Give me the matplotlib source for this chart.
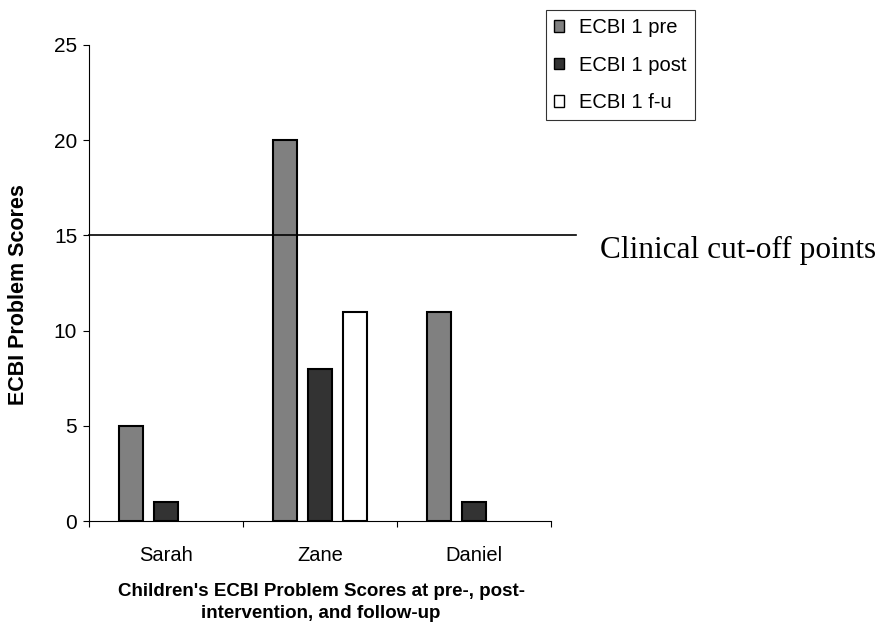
import matplotlib

matplotlib.use("Agg")
import matplotlib.pyplot as plt
from matplotlib.patches import Rectangle
import numpy as np

plt.rcParams["font.family"] = ["Liberation Sans", "DejaVu Sans"]

CHILDREN = ["Sarah", "Zane", "Daniel"]
SERIES = ["ECBI 1 pre", "ECBI 1 post", "ECBI 1 f-u"]
PRE = [5, 20, 11]
POST = [1, 8, 1]
FOLLOW_UP = [0, 11, 0]
CUTOFF = 15
COLORS = ["#808080", "#333333", "#ffffff"]

W, H = 885, 629
fig = plt.figure(figsize=(W / 100, H / 100), dpi=100)
ax = fig.add_axes([0.1006, 0.1717, 0.522, 0.7568])

x = np.arange(len(CHILDREN))
width = 0.156
offset = 0.227
handles = []
for i, (vals, color, name) in enumerate(zip([PRE, POST, FOLLOW_UP], COLORS, SERIES)):
    pos = x + (i - 1) * offset
    keep = [v > 0 for v in vals]
    ax.bar(pos[keep], np.array(vals)[keep], width=width, color=color,
           edgecolor="black", linewidth=1.5, zorder=3)
    handles.append(Rectangle((0, 0), 1, 1, facecolor=color, edgecolor="black", linewidth=1.0, label=name))

ax.set_xlim(-0.5, 2.5)
ax.set_ylim(0, 25)
ax.set_yticks([0, 5, 10, 15, 20, 25])
ax.set_xticks([-0.5, 0.5, 1.5, 2.5])
ax.set_xticklabels([])
ax.set_xticks(x, minor=True)
ax.set_xticklabels(CHILDREN, minor=True)
ax.tick_params(axis="x", which="minor", length=0, pad=18, labelsize=14.5)
ax.tick_params(axis="x", which="major", direction="out", length=4.5, width=0.8)
ax.tick_params(axis="y", direction="out", length=4.5, width=0.8, labelsize=15, pad=4)

for side in ["top", "right"]:
    ax.spines[side].set_visible(False)
ax.spines["left"].set_linewidth(0.8)
ax.spines["bottom"].set_linewidth(0.8)

# cut-off line runs a bit past the plot area
ax.plot([-0.5, 2.66], [CUTOFF, CUTOFF], color="black", linewidth=1.2, clip_on=False, zorder=4)
fig.text(600 / W, 1 - 250 / H, "Clinical cut-off points", fontsize=22.5,
         family=["Liberation Serif", "DejaVu Serif"], ha="left", va="center")

fig.text(19 / W, 1 - 295 / H, "ECBI Problem Scores", fontsize=15.5, fontweight="bold",
         rotation=90, ha="center", va="center")
fig.text(321 / W, 1 - 591 / H, "Children's ECBI Problem Scores at pre-, post-",
         fontsize=13.5, fontweight="bold", ha="center", va="center")
fig.text(321 / W, 1 - 614 / H, "intervention, and follow-up",
         fontsize=13.5, fontweight="bold", ha="center", va="center")

leg = fig.legend(handles=handles, loc="upper left", bbox_to_anchor=(546 / W, 1 - 10 / H),
                 frameon=True, fancybox=False, edgecolor="black", fontsize=14.5,
                 handlelength=0.5, handleheight=0.5, handletextpad=0.75,
                 labelspacing=0.92, borderpad=0.4, borderaxespad=0)
leg.get_frame().set_linewidth(0.8)

fig.savefig("out.png", dpi=100)
